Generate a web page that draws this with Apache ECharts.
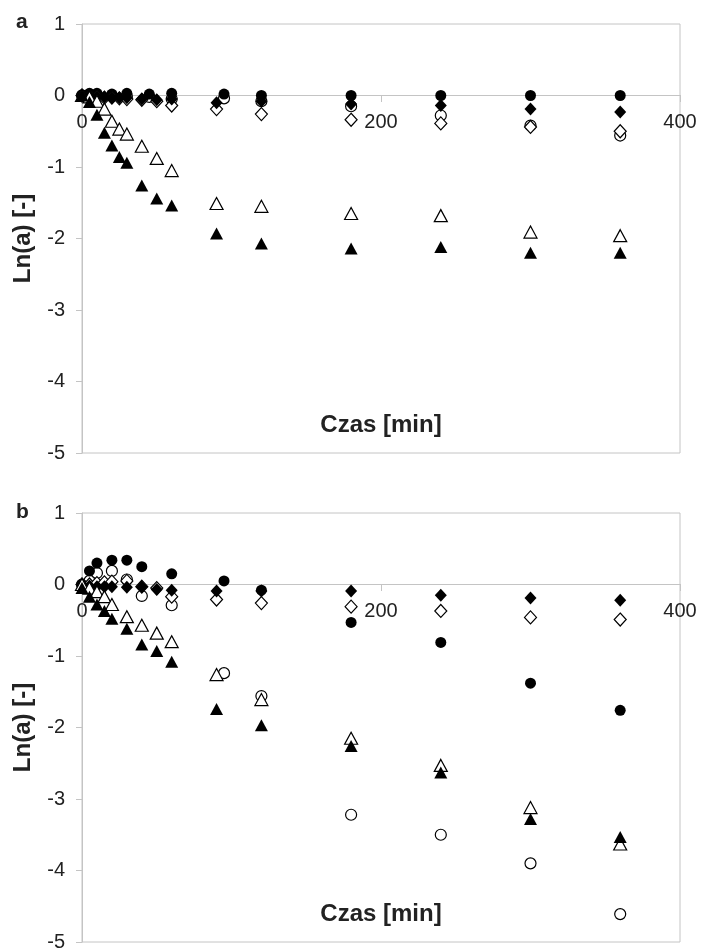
<!DOCTYPE html>
<html>
<head>
<meta charset="utf-8">
<script src="https://cdn.jsdelivr.net/npm/echarts@6/dist/echarts.min.js"></script>
<style>
  html, body { margin: 0; padding: 0; background: #fff; }
  #main { width: 701px; height: 952px; }
</style>
</head>
<body>
<div id="main"></div>
<script>
// panel a
const timesA = [0, 5, 10, 15, 20, 25, 30, 40, 50, 60, 90, 120, 180, 240, 300, 360];
const circleTimesA = [0, 5, 10, 20, 30, 45, 60, 95, 120, 180, 240, 300, 360];
const diamondFilledA = [0, -0.01, -0.02, -0.02, -0.03, -0.03, -0.03, -0.05, -0.06, -0.05, -0.1, -0.08, -0.12, -0.14, -0.19, -0.23];
const diamondOpenA = [0, -0.01, -0.02, -0.03, -0.03, -0.04, -0.05, -0.06, -0.08, -0.14, -0.19, -0.26, -0.34, -0.39, -0.44, -0.5];
const circleFilledA = [0.01, 0.03, 0.03, 0.02, 0.03, 0.02, 0.03, 0.02, 0, 0, 0, 0, 0];
const circleOpenA = [0, 0.01, 0.01, 0, -0.01, -0.02, -0.05, -0.04, -0.08, -0.15, -0.28, -0.42, -0.56];
const triangleFilledA = [0, -0.09, -0.27, -0.52, -0.7, -0.86, -0.94, -1.26, -1.44, -1.54, -1.93, -2.07, -2.14, -2.12, -2.2, -2.2];
const triangleOpenA = [0, -0.02, -0.08, -0.19, -0.36, -0.47, -0.54, -0.71, -0.88, -1.05, -1.51, -1.55, -1.65, -1.68, -1.91, -1.96];

// panel b
const timesB = [0, 5, 10, 15, 20, 30, 40, 50, 60, 90, 120, 180, 240, 300, 360];
const circleTimesB = [0, 5, 10, 20, 30, 40, 60, 95, 120, 180, 240, 300, 360];
const diamondFilledB = [0, -0.02, -0.03, -0.03, -0.03, -0.04, -0.03, -0.07, -0.08, -0.09, -0.09, -0.09, -0.15, -0.19, -0.22];
const diamondOpenB = [0, 0, 0.02, 0.03, 0.04, 0.05, -0.03, -0.05, -0.17, -0.21, -0.26, -0.31, -0.37, -0.46, -0.49];
const circleFilledB = [0, 0.19, 0.3, 0.34, 0.34, 0.25, 0.15, 0.05, -0.08, -0.53, -0.81, -1.38, -1.76];
const circleOpenB = [0, 0.05, 0.16, 0.19, 0.07, -0.16, -0.29, -1.24, -1.56, -3.22, -3.5, -3.9, -4.61];
const triangleFilledB = [-0.05, -0.17, -0.28, -0.37, -0.48, -0.62, -0.84, -0.93, -1.08, -1.74, -1.97, -2.26, -2.63, -3.28, -3.53];
const triangleOpenB = [0, -0.05, -0.1, -0.17, -0.28, -0.45, -0.57, -0.68, -0.8, -1.26, -1.61, -2.15, -2.53, -3.12, -3.63];

const xTicks = [0, 200, 400];
const yTicks = [1, 0, -1, -2, -3, -4, -5];

const FONT = "'Liberation Sans', Arial, sans-serif";
const AXIS_GRAY = "#c4c4c4";
const PLOT_H = 429;
// x axis sits on y = 0, i.e. 5 of the 6 units up from the bottom edge
const X_OFFSET = -Math.round((PLOT_H * 5) / 6);

const sizes = { circle: 11, diamond: [12, 13], triangle: [13, 12] };

const makeSeries = (xs, ys, shape, filled, idx) => ({
  type: "scatter",
  xAxisIndex: idx,
  yAxisIndex: idx,
  symbol: shape,
  symbolSize: sizes[shape],
  data: xs.map((x, i) => [x, ys[i]]),
  itemStyle: filled
    ? { color: "#000", opacity: 1, borderWidth: 0 }
    : { color: "#fff", opacity: 1, borderColor: "#000", borderWidth: 1.2 },
});

const makeX = (idx) => ({
  type: "value",
  gridIndex: idx,
  position: "bottom",
  offset: X_OFFSET,
  min: 0,
  max: 400,
  interval: 200,
  name: "Czas [min]",
  nameLocation: "middle",
  nameGap: 318,
  nameTextStyle: { fontFamily: FONT, fontSize: 24, fontWeight: "bold", color: "#222" },
  axisLine: { onZero: false, lineStyle: { color: AXIS_GRAY, width: 1 } },
  axisTick: { show: true, length: 7, lineStyle: { color: AXIS_GRAY } },
  axisLabel: {
    margin: 17,
    fontFamily: FONT,
    fontSize: 20,
    color: "#222",
    formatter: (v) => (xTicks.includes(v) ? String(v) : ""),
  },
  splitLine: { show: false },
});

const makeY = (idx) => ({
  type: "value",
  gridIndex: idx,
  min: -5,
  max: 1,
  interval: 1,
  name: "Ln(a) [-]",
  nameLocation: "middle",
  nameRotate: 90,
  nameGap: 47,
  nameTextStyle: { fontFamily: FONT, fontSize: 24, fontWeight: "bold", color: "#222" },
  axisLine: { show: true, lineStyle: { color: AXIS_GRAY, width: 1 } },
  axisTick: { show: true, length: 6, lineStyle: { color: AXIS_GRAY } },
  axisLabel: {
    margin: 17,
    fontFamily: FONT,
    fontSize: 20,
    color: "#222",
    formatter: (v) => (yTicks.includes(v) ? String(v) : ""),
  },
  splitLine: { show: false },
});

const gridBase = {
  left: 82,
  right: 21,
  height: PLOT_H,
  show: true,
  borderColor: AXIS_GRAY,
  borderWidth: 1,
  backgroundColor: "transparent",
  containLabel: false,
  outerBoundsMode: "none",
};

const option = {
  animation: false,
  backgroundColor: "#fff",
  grid: [
    { ...gridBase, top: 24 },
    { ...gridBase, top: 513 },
  ],
  xAxis: [makeX(0), makeX(1)],
  yAxis: [makeY(0), makeY(1)],
  graphic: [
    { type: "text", left: 16, top: 12, style: { text: "a", font: "bold 21px " + FONT, fill: "#222" } },
    { type: "text", left: 16, top: 502, style: { text: "b", font: "bold 21px " + FONT, fill: "#222" } },
  ],
  series: [
    makeSeries(circleTimesA, circleOpenA, "circle", false, 0),
    makeSeries(circleTimesA, circleFilledA, "circle", true, 0),
    makeSeries(timesA, diamondOpenA, "diamond", false, 0),
    makeSeries(timesA, diamondFilledA, "diamond", true, 0),
    makeSeries(timesA, triangleOpenA, "triangle", false, 0),
    makeSeries(timesA, triangleFilledA, "triangle", true, 0),
    makeSeries(circleTimesB, circleOpenB, "circle", false, 1),
    makeSeries(circleTimesB, circleFilledB, "circle", true, 1),
    makeSeries(timesB, diamondOpenB, "diamond", false, 1),
    makeSeries(timesB, diamondFilledB, "diamond", true, 1),
    makeSeries(timesB, triangleOpenB, "triangle", false, 1),
    makeSeries(timesB, triangleFilledB, "triangle", true, 1),
  ],
};

const myChart = echarts.init(document.getElementById("main"));
myChart.setOption(option);
</script>
</body>
</html>
